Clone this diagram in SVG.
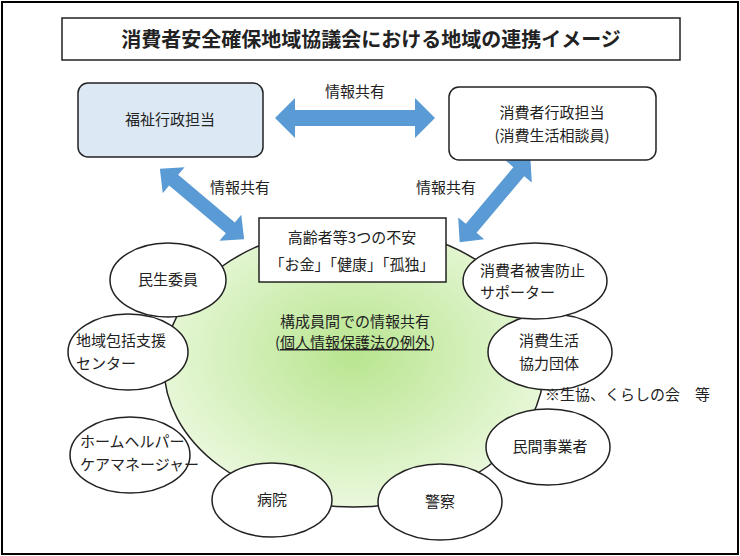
<svg xmlns="http://www.w3.org/2000/svg" width="740" height="556" viewBox="0 0 740 556">
<style>
text{font-family:"Noto Sans CJK JP","Noto Sans",sans-serif;font-size:15px;fill:#222;text-anchor:middle}
.n{fill:#fff;stroke:#222;stroke-width:1.5}
.a{fill:#5b9bd5}
</style>
<defs>
<radialGradient id="g" cx="0.5" cy="0.45" r="0.55"><stop offset="0" stop-color="#b8e58f"/><stop offset="1" stop-color="#eaf8dc"/></radialGradient>
</defs>
<rect x="2" y="2" width="736" height="552" fill="#fff" stroke="#000" stroke-width="2"/>
<g id="title"><rect x="62" y="18" width="618" height="42" fill="#fff" stroke="#222" stroke-width="1.5"/><text x="371" y="47" style="font-size:20px;font-weight:bold">消費者安全確保地域協議会における地域の連携イメージ</text></g>
<g id="circle"><ellipse cx="354" cy="367" rx="190" ry="140" fill="url(#g)" stroke="#222" stroke-width="1.5"/>
<text x="355" y="327">構成員間での情報共有</text><text x="355" y="348">(<tspan text-decoration="underline">個人情報保護法の例外</tspan>)</text></g>
<g id="connectors">
<polygon class="a" points="275,118 295,98 295,110 415,110 415,98 435,118 415,138 415,126 295,126 295,138"/>
<polygon class="a" transform="translate(202,204) rotate(40)" points="-55,0 -37,-17 -37,-7 37,-7 37,-17 55,0 37,17 37,7 -37,7 -37,17"/>
<polygon class="a" transform="translate(495,200) rotate(-50)" points="-55,0 -37,-17 -37,-7 37,-7 37,-17 55,0 37,17 37,7 -37,7 -37,17"/>
<text x="355" y="97">情報共有</text><text x="240" y="193">情報共有</text><text x="446" y="193">情報共有</text>
</g>
<g id="fukushi"><rect x="78" y="83" width="185" height="74" rx="10" fill="#dde8f5" stroke="#222" stroke-width="1.5"/><text x="170" y="125">福祉行政担当</text></g>
<g id="shohisha"><rect x="449" y="87" width="207" height="73" rx="10" class="n"/><text x="552" y="118">消費者行政担当</text><text x="552" y="141">(消費生活相談員)</text></g>
<g id="fuan"><rect x="259" y="218" width="187" height="64" class="n"/><text x="352" y="243">高齢者等3つの不安</text><text x="352" y="270">「お金」「健康」「孤独」</text></g>
<g id="minsei"><ellipse cx="168" cy="280" rx="58" ry="37" class="n"/><text x="168" y="285">民生委員</text></g>
<g id="chiiki"><ellipse cx="128" cy="352" rx="60" ry="38" class="n"/><text x="76" y="346" style="text-anchor:start">地域包括支援</text><text x="76" y="369" style="text-anchor:start">センター</text></g>
<g id="home"><ellipse cx="130" cy="455" rx="60" ry="38" class="n"/><text x="80" y="447" style="text-anchor:start">ホームヘルパー</text><text x="80" y="470" style="text-anchor:start">ケアマネージャー</text></g>
<g id="byoin"><ellipse cx="272" cy="500" rx="60" ry="37" class="n"/><text x="272" y="505">病院</text></g>
<g id="keisatsu"><ellipse cx="440" cy="502" rx="62" ry="38" class="n"/><text x="440" y="507">警察</text></g>
<g id="minkan"><ellipse cx="548" cy="447" rx="62" ry="38" class="n"/><text x="550" y="452">民間事業者</text></g>
<g id="kyoryoku"><ellipse cx="550" cy="352" rx="62" ry="38" class="n"/><text x="549" y="346">消費生活</text><text x="549" y="369">協力団体</text></g>
<g id="higai"><ellipse cx="535" cy="281" rx="72" ry="38" class="n"/><text x="480" y="276" style="text-anchor:start">消費者被害防止</text><text x="480" y="298" style="text-anchor:start">サポーター</text></g>
<text x="545" y="400" style="text-anchor:start">※生協、くらしの会　等</text>
</svg>
